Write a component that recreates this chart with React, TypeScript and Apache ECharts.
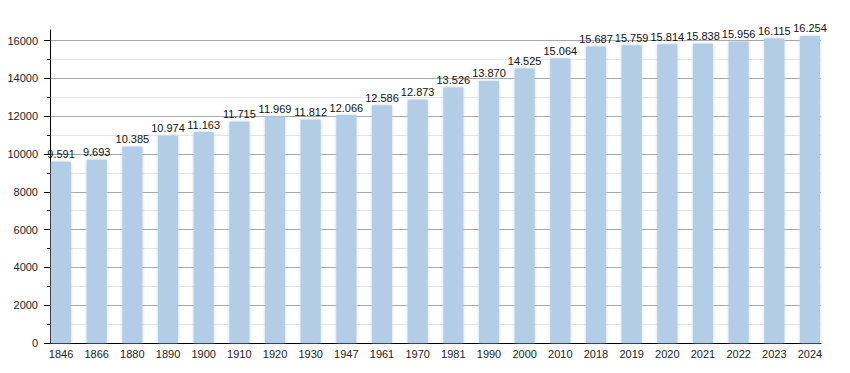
import React, { useEffect, useRef } from "react";
import * as echarts from "echarts";

const years = ["1846", "1866", "1880", "1890", "1900", "1910", "1920", "1930", "1947", "1961", "1970", "1981", "1990", "2000", "2010", "2018", "2019", "2020", "2021", "2022", "2023", "2024"];
const population = [9591, 9693, 10385, 10974, 11163, 11715, 11969, 11812, 12066, 12586, 12873, 13526, 13870, 14525, 15064, 15687, 15759, 15814, 15838, 15956, 16115, 16254];
const yMin = 0;
const yMax = 16000;
const yInterval = 2000;

const fmt = (v: number) => {
  const s = String(Math.round(v));
  return s.replace(/\B(?=(\d{3})+(?!\d))/g, ".");
};

export default function App() {
  const ref = useRef<HTMLDivElement>(null);
  useEffect(() => {
    if (!ref.current) return;
    const chart = echarts.init(ref.current, null, { renderer: "svg" });
    const font = "'Liberation Sans', Arial, sans-serif";
    chart.setOption({
      animation: false,
      backgroundColor: "#ffffff",
      grid: [
        { left: 43.2, right: 22.2, top: 40.7, bottom: 30 },
        { left: 50, right: 29, top: 40.7, bottom: 30 },
        { left: 50, right: 29, top: 30, bottom: 30 },
      ],
      xAxis: [
        {
          gridIndex: 0,
          type: "category",
          data: years,
          axisLine: { show: false },
          axisTick: { show: false },
          axisLabel: { color: "#222", fontFamily: font, fontSize: 11, margin: 5 },
        },
        {
          gridIndex: 1,
          type: "value",
          min: 0,
          max: 1,
          axisLine: { show: true, lineStyle: { color: "#000", width: 1 } },
          axisTick: { show: false },
          axisLabel: { show: false },
          splitLine: { show: false },
        },
        { gridIndex: 2, type: "value", show: false },
      ],
      yAxis: [
        {
          gridIndex: 0,
          type: "value",
          min: yMin,
          max: yMax,
          show: false,
        },
        {
          gridIndex: 1,
          type: "value",
          min: yMin,
          max: yMax,
          interval: yInterval,
          axisLine: { show: false },
          axisTick: { show: true, length: 6, lineStyle: { color: "#000" } },
          minorTick: { show: true, splitNumber: 2, length: 3, lineStyle: { color: "#000" } },
          axisLabel: {
            color: "#222",
            fontFamily: font,
            fontSize: 11,
            margin: 12,
            formatter: (v: number) => String(v),
          },
          splitLine: { show: true, lineStyle: { color: "#a8a8a8", width: 1 } },
          minorSplitLine: { show: true, lineStyle: { color: "#e4e4e4", width: 1 } },
        },
        {
          gridIndex: 2,
          type: "value",
          min: 0,
          max: 1,
          axisLine: { show: true, lineStyle: { color: "#000", width: 1 } },
          axisTick: { show: false },
          axisLabel: { show: false },
          splitLine: { show: false },
        },
      ],
      series: [
        {
          type: "bar",
          xAxisIndex: 0,
          yAxisIndex: 0,
          data: population,
          barWidth: 20,
          clip: false,
          itemStyle: {
            color: "#b3cde6",
            shadowBlur: 3,
            shadowColor: "rgba(179,205,230,0.9)",
          },
          label: {
            show: true,
            position: "top",
            distance: 2,
            color: "#111",
            fontFamily: font,
            fontSize: 11,
            formatter: (p: any) => fmt(p.value),
          },
        },
      ],
    });
    return () => chart.dispose();
  }, []);
  return <div ref={ref} style={{ width: 850, height: 373, position: "absolute", left: 0, top: 0 }} />;
}
